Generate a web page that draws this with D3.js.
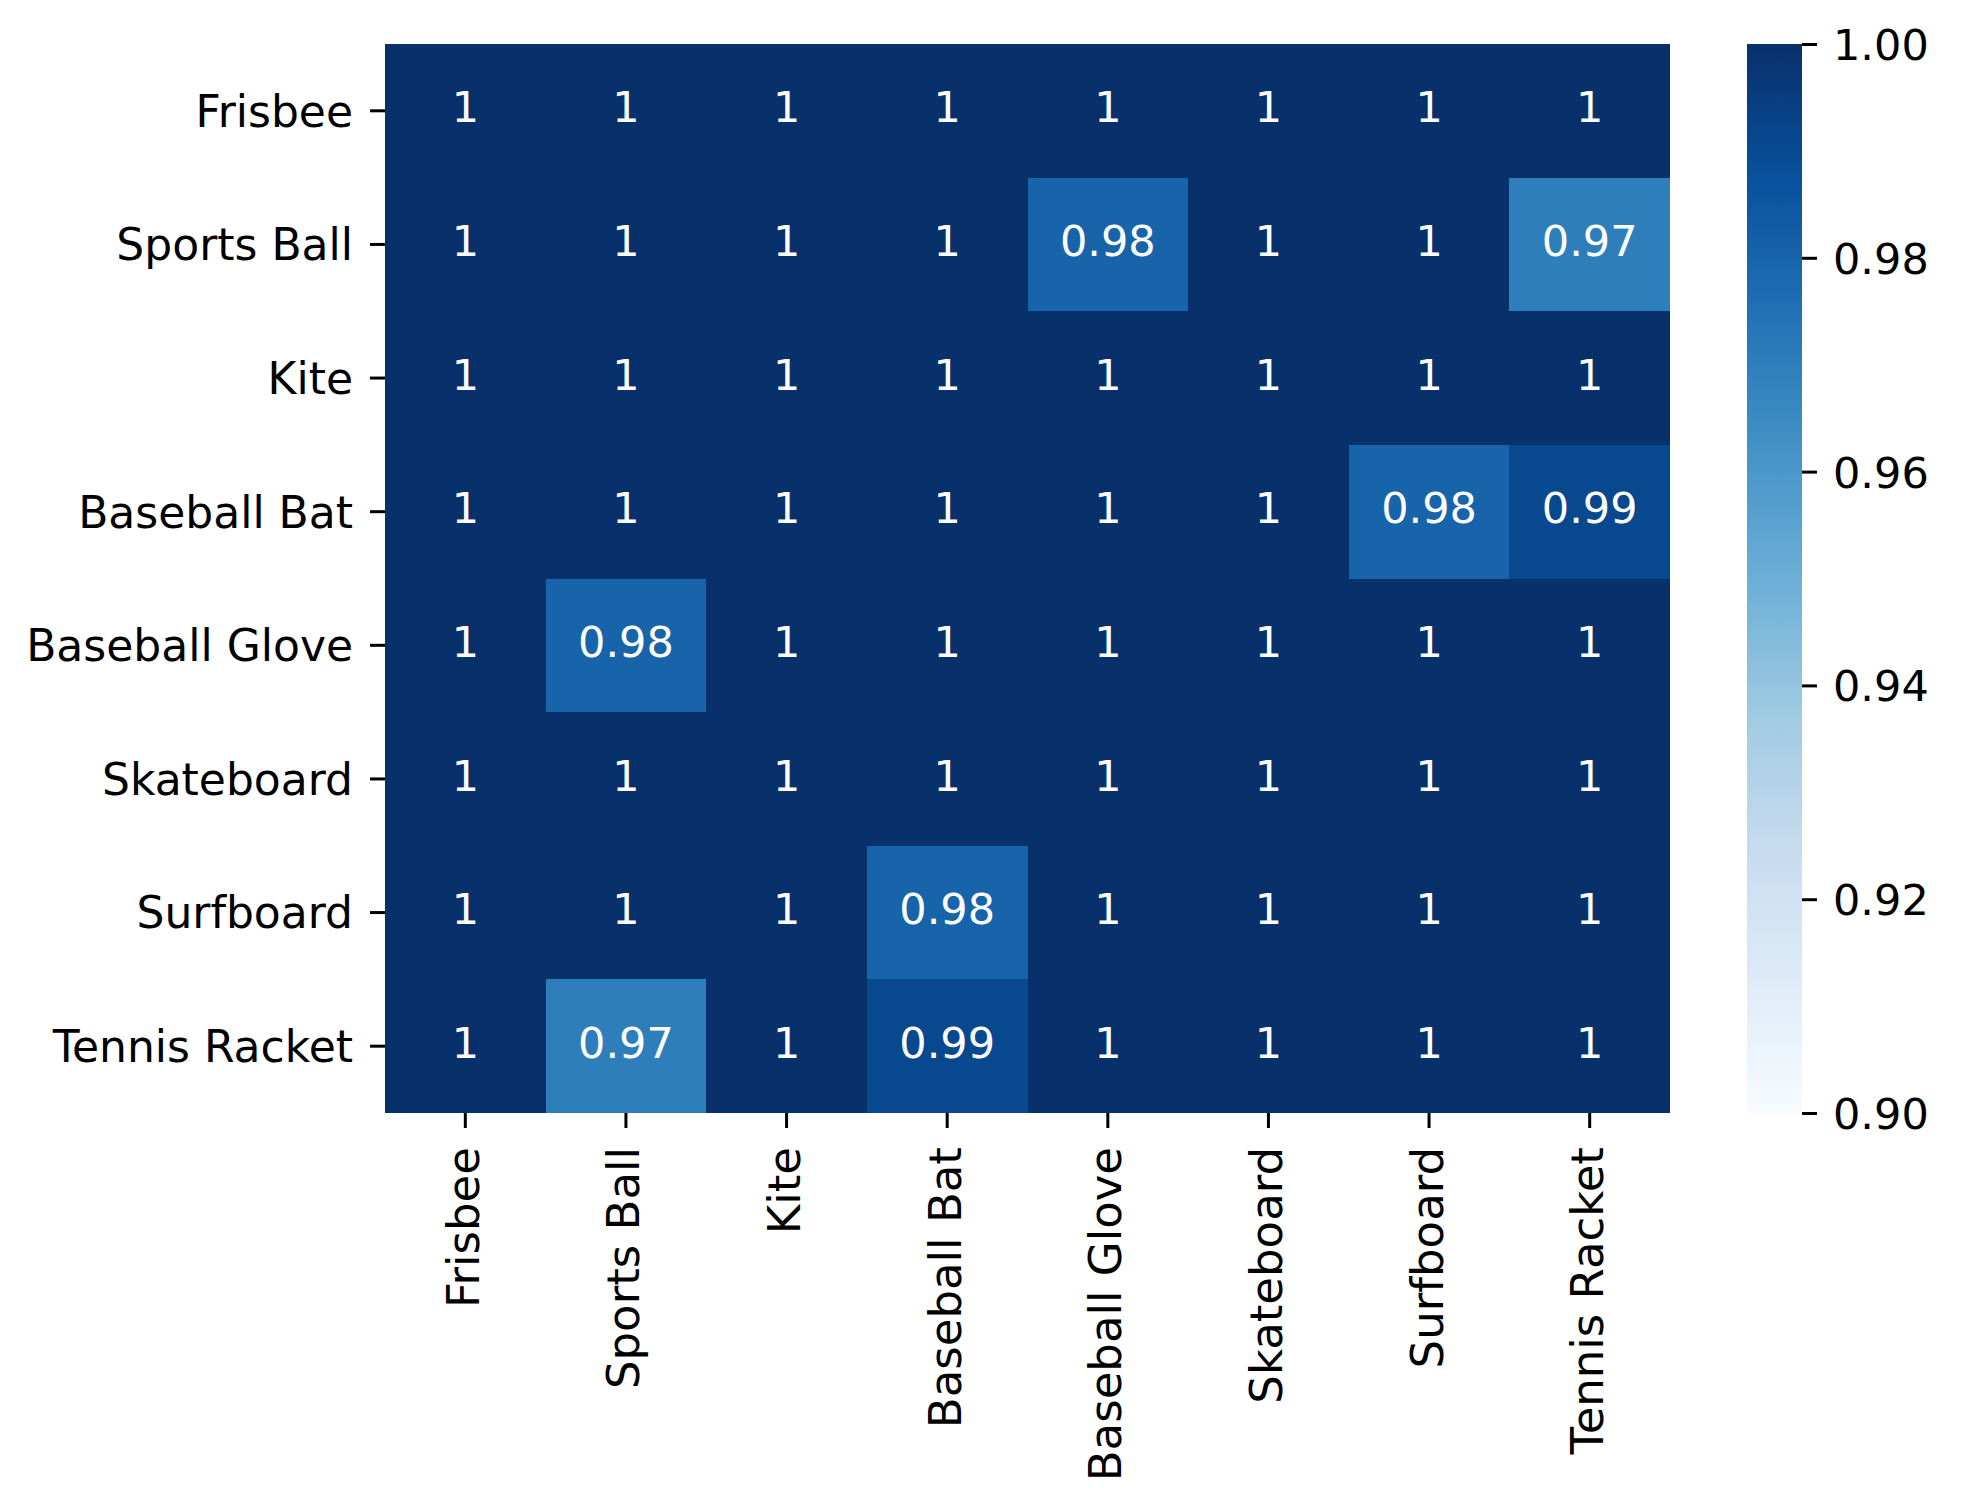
<!DOCTYPE html>
<html>
<head>
<meta charset="utf-8">
<script src="https://cdn.jsdelivr.net/npm/d3@7"></script>
<style>
  body { margin: 0; background: #fff; }
  text { font-family: "DejaVu Sans", sans-serif; }
</style>
</head>
<body>
<svg id="chart" width="1962" height="1504"></svg>
<script>
// categories, used for both rows and columns
const labels = ["Frisbee", "Sports Ball", "Kite", "Baseball Bat", "Baseball Glove", "Skateboard", "Surfboard", "Tennis Racket"];

// one array per row
const rowFrisbee = [1, 1, 1, 1, 1, 1, 1, 1];
const rowSportsBall = [1, 1, 1, 1, 0.98, 1, 1, 0.97];
const rowKite = [1, 1, 1, 1, 1, 1, 1, 1];
const rowBaseballBat = [1, 1, 1, 1, 1, 1, 0.98, 0.991];
const rowBaseballGlove = [1, 0.98, 1, 1, 1, 1, 1, 1];
const rowSkateboard = [1, 1, 1, 1, 1, 1, 1, 1];
const rowSurfboard = [1, 1, 1, 0.98, 1, 1, 1, 1];
const rowTennisRacket = [1, 0.97, 1, 0.991, 1, 1, 1, 1];

const colorbarTicks = [0.90, 0.92, 0.94, 0.96, 0.98, 1.00];
const blues = ["#f7fbff", "#deebf7", "#c6dbef", "#9ecae1", "#6baed6", "#4292c6", "#2171b5", "#08519c", "#08306b"];

const rows = [rowFrisbee, rowSportsBall, rowKite, rowBaseballBat, rowBaseballGlove, rowSkateboard, rowSurfboard, rowTennisRacket];
const cells = [];
rows.forEach((r, i) => r.forEach((v, j) => cells.push({row: labels[i], col: labels[j], value: v})));

const svg = d3.select("#chart");
const tickLen = 15;

// heatmap area
const area = {left: 385, right: 1670, top: 44, bottom: 1113};

const x = d3.scaleBand().domain(labels).range([area.left, area.right]);
const y = d3.scaleBand().domain(labels).range([area.top, area.bottom]);

const vmin = 0.9, vmax = 1.0;
const color = d3.scaleLinear()
    .domain(d3.range(blues.length).map(i => vmin + (vmax - vmin) * i / (blues.length - 1)))
    .range(blues)
    .clamp(true);

const fmt = d3.format(".2~g");

svg.append("g")
    .attr("shape-rendering", "crispEdges")
    .selectAll("rect")
    .data(cells)
    .enter().append("rect")
    .attr("x", d => x(d.col))
    .attr("y", d => y(d.row))
    .attr("width", x.bandwidth())
    .attr("height", y.bandwidth())
    .attr("fill", d => color(d.value));

svg.append("g")
    .selectAll("text")
    .data(cells)
    .enter().append("text")
    .attr("x", d => x(d.col) + x.bandwidth() / 2)
    .attr("y", d => y(d.row) + y.bandwidth() / 2)
    .attr("dy", "0.27em")
    .attr("text-anchor", "middle")
    .attr("fill", "#fff")
    .style("font-size", "43px")
    .text(d => fmt(d.value));

// y axis
const yAxis = svg.append("g")
    .attr("transform", `translate(${area.left},0)`)
    .call(d3.axisLeft(y).tickSize(tickLen).tickPadding(17));
yAxis.select(".domain").remove();
yAxis.selectAll(".tick line").attr("stroke", "#000").attr("stroke-width", 3);
yAxis.selectAll(".tick text")
    .attr("fill", "#000")
    .attr("dy", "0.36em")
    .style("font-size", "44px")
    .style("font-family", "DejaVu Sans");

// x axis, labels rotated
const xAxis = svg.append("g")
    .attr("transform", `translate(0,${area.bottom})`)
    .call(d3.axisBottom(x).tickSize(tickLen));
xAxis.select(".domain").remove();
xAxis.selectAll(".tick line").attr("stroke", "#000").attr("stroke-width", 3);
xAxis.selectAll(".tick text")
    .attr("fill", "#000")
    .attr("transform", "rotate(-90)")
    .attr("x", -(tickLen + 19))
    .attr("y", 0)
    .attr("dy", "0.3em")
    .attr("text-anchor", "end")
    .style("font-size", "45px")
    .style("font-family", "DejaVu Sans");

// colorbar
const cbLeft = 1747, cbRight = 1802;
const defs = svg.append("defs");
const grad = defs.append("linearGradient")
    .attr("id", "cbgrad")
    .attr("x1", 0).attr("y1", 1).attr("x2", 0).attr("y2", 0);
grad.selectAll("stop")
    .data(blues)
    .enter().append("stop")
    .attr("offset", (d, i) => i / (blues.length - 1))
    .attr("stop-color", d => d);

const cy = d3.scaleLinear().domain([vmin, vmax]).range([area.bottom, area.top]);

svg.append("rect")
    .attr("x", cbLeft)
    .attr("y", cy(vmax))
    .attr("width", cbRight - cbLeft)
    .attr("height", cy(vmin) - cy(vmax))
    .attr("fill", "url(#cbgrad)");

const cAxis = svg.append("g")
    .attr("transform", `translate(${cbRight},0)`)
    .call(d3.axisRight(cy).tickValues(colorbarTicks).tickFormat(d3.format(".2f")).tickSize(tickLen).tickPadding(16));
cAxis.select(".domain").remove();
cAxis.selectAll(".tick line").attr("stroke", "#000").attr("stroke-width", 3);
cAxis.selectAll(".tick text")
    .attr("fill", "#000")
    .attr("dy", "0.36em")
    .style("font-size", "43px")
    .style("font-family", "DejaVu Sans");
</script>
</body>
</html>
